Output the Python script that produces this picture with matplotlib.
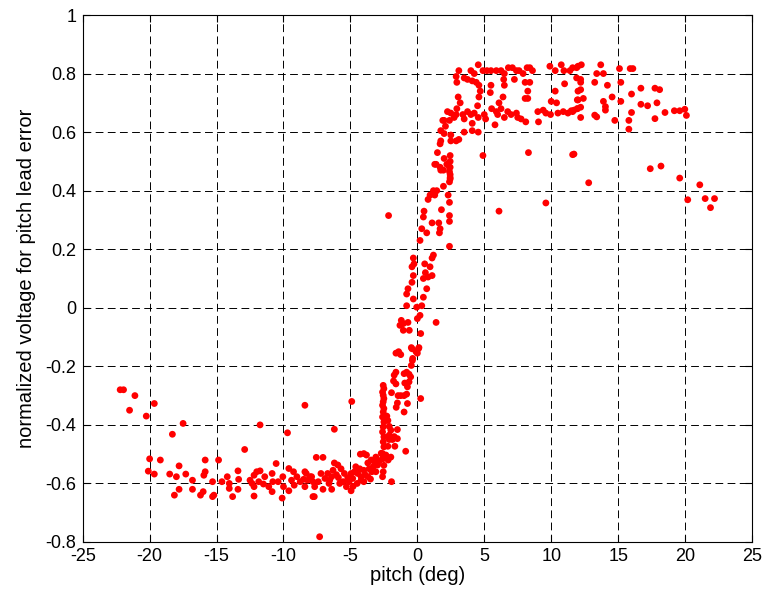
import matplotlib
matplotlib.use("Agg")
import matplotlib.pyplot as plt
import numpy as np

plt.rcParams['font.family'] = ['Liberation Sans', 'DejaVu Sans']
plt.rcParams['axes.unicode_minus'] = False

# ---- data: low plateau / left tail ----
pitch_low = [-22.2, -21.95, -21.1, -21.5, -20.25, -19.65, -17.5, -18.3, -20.0, -20.1,
             -19.65, -19.2, -18.5, -18.0, -17.8, -18.15, -17.8, -17.3, -16.8, -16.8,
             -16.2, -16.0, -15.95, -15.85, -15.85, -15.3, -15.3, -15.2, -14.85, -14.6,
             -14.2, -14.05, -14.05, -13.8, -13.4, -13.4, -13.35, -12.9, -12.5, -12.2,
             -12.2, -12.2, -12.0, -11.75, -11.75, -11.4, -12.35, -11.85, -11.5, -11.1,
             -10.85, -10.85, -10.8, -10.55, -10.4, -10.1, -10.0, -10.05, -9.7, -9.6,
             -9.6, -9.4, -9.25, -9.2, -8.4, -8.4, -8.4, -8.5, -9.0, -8.75,
             -8.0, -7.8, -7.8]
volt_low = [-0.28, -0.28, -0.30, -0.35, -0.37, -0.327, -0.395, -0.432, -0.516, -0.558,
            -0.568, -0.52, -0.568, -0.577, -0.54, -0.64, -0.62, -0.568, -0.589, -0.62,
            -0.64, -0.628, -0.572, -0.56, -0.52, -0.594, -0.645, -0.64, -0.52, -0.594,
            -0.577, -0.6, -0.617, -0.645, -0.62, -0.557, -0.586, -0.484, -0.589, -0.572,
            -0.611, -0.643, -0.56, -0.4, -0.557, -0.577, -0.6, -0.594, -0.602, -0.611,
            -0.628, -0.566, -0.594, -0.532, -0.594, -0.65, -0.611, -0.577, -0.427, -0.549,
            -0.625, -0.589, -0.56, -0.606, -0.333, -0.611, -0.56, -0.586, -0.577, -0.594,
            -0.577, -0.594, -0.645]

pitch_knee = [-8.3, -8.2, -7.9, -7.67, -7.55, -7.05, -7.4, -7.2, -7.05, -6.9,
              -6.7, -6.55, -6.4, -6.4, -6.3, -6.2, -6.05, -5.94, -5.8, -5.7,
              -5.55, -5.45, -5.3, -5.1, -4.95, -4.95, -4.9, -4.83, -4.7, -4.6,
              -4.45, -4.3, -4.26, -4.2, -4.2, -4.0, -4.0, -4.0, -3.8, -3.7,
              -3.7, -3.6, -3.45, -3.3, -3.2, -3.1, -3.1, -2.97, -2.85, -2.7,
              -2.6, -2.35, -2.18, -1.98, -1.93, -7.7, -7.3, -6.2, -5.2, -4.5,
              -3.9, -3.4, -5.9, -6.6, -4.8, -3.5]
volt_knee = [-0.566, -0.589, -0.577, -0.611, -0.511, -0.511, -0.594, -0.566, -0.62, -0.583,
             -0.566, -0.589, -0.577, -0.62, -0.555, -0.53, -0.57, -0.537, -0.6, -0.55,
             -0.594, -0.566, -0.611, -0.594, -0.566, -0.625, -0.32, -0.583, -0.56, -0.543,
             -0.566, -0.55, -0.5, -0.577, -0.589, -0.555, -0.594, -0.498, -0.503, -0.53,
             -0.577, -0.55, -0.52, -0.543, -0.526, -0.51, -0.56, -0.537, -0.523, -0.497,
             -0.515, -0.503, -0.52, -0.51, -0.594, -0.645, -0.782, -0.415, -0.58, -0.6,
             -0.57, -0.56, -0.58, -0.6, -0.61, -0.585]

# ---- data: vertical stack near -2.5 deg ----
pitch_stack = [-2.55, -2.5, -2.6, -2.55, -2.5, -2.55, -2.6, -2.5, -2.55, -2.6,
               -2.5, -2.55, -2.6, -2.5, -2.55, -2.5, -2.6, -2.55, -2.5, -2.55, -2.6]
volt_stack = [-0.265, -0.276, -0.288, -0.299, -0.31, -0.321, -0.333, -0.344, -0.356, -0.373,
              -0.39, -0.407, -0.424, -0.441, -0.458, -0.475, -0.498, -0.515, -0.538, -0.56, -0.577]

# ---- data: rising section ----
pitch_rise = [-2.28, -2.2, -2.1, -1.49, -1.73, -1.86, -1.49, -1.68, -0.87, -2.1,
              -1.98, -2.1, -2.2, -1.36, -1.24, -0.45, 0.12, 0.0, -0.37, -0.45,
              -1.6, -1.73, -0.99, -0.8, -0.62, -0.5, -1.78, -1.6, -0.94, -0.74,
              -0.62, -1.93, -1.24, -1.44, -0.99, -0.8, -0.74, -1.49, -1.58, -0.99,
              0.25, -1.4, -1.6, -0.4, -0.1, 0.08, -0.35, 0.25, -1.05, -0.6,
              -1.2, -1.05, -1.3, -0.7, 0.0, 1.4, 0.2, -0.8, -0.05, 0.33,
              -0.8, -0.3, 0.45, -0.7, 0.7, -0.4, 0.45, -0.3, 0.8, 1.1,
              0.95, -0.4, -0.25, -0.3, 1.1, 1.2, 0.2, 2.4, 0.7, 1.65,
              1.7, 0.33, 1.6, 1.1, 0.45, 0.5, 1.8, 2.4, 0.8, 1.3,
              0.95, 2.3, 1.2, 1.45, 1.95, 2.4, 2.45, 1.95, 1.7, 2.4,
              1.3, 2.2, -2.15, 2.4, 2.4, 2.45, 2.4, 2.45, 0.55, 0.6]
volt_rise = [-0.37, -0.385, -0.405, -0.416, -0.44, -0.45, -0.447, -0.473, -0.49, -0.45,
             -0.418, -0.435, -0.473, -0.155, -0.16, -0.136, -0.136, -0.155, -0.18, -0.197,
             -0.22, -0.23, -0.225, -0.22, -0.227, -0.236, -0.25, -0.26, -0.257, -0.27,
             -0.253, -0.29, -0.30, -0.30, -0.30, -0.295, -0.327, -0.325, -0.34, -0.356,
             -0.31, -0.15, -0.155, -0.14, -0.15, -0.14, -0.173, -0.088, -0.077, -0.077,
             -0.043, -0.054, -0.06, -0.05, -0.037, -0.05, -0.026, 0.007, 0.002, 0.007,
             0.047, 0.03, 0.036, 0.065, 0.065, 0.087, 0.10, 0.11, 0.105, 0.11,
             0.14, 0.14, 0.15, 0.17, 0.17, 0.18, 0.23, 0.21, 0.256, 0.256,
             0.27, 0.27, 0.29, 0.29, 0.31, 0.33, 0.335, 0.36, 0.37, 0.385,
             0.385, 0.385, 0.40, 0.40, 0.415, 0.43, 0.455, 0.47, 0.48, 0.48,
             0.49, 0.49, 0.315, 0.295, 0.315, 0.44, 0.465, 0.50, 0.15, 0.12]

# ---- data: upper plateau ----
pitch_high = [3.1, 4.0, 4.25, 4.55, 4.9, 5.2, 5.5, 5.9, 6.25, 6.5,
              6.8, 7.1, 7.4, 7.6, 7.9, 8.2, 8.4, 8.6, 9.9, 10.3,
              10.75, 10.95, 11.4, 11.9, 12.25,
              2.9, 2.95, 3.5, 3.75, 4.1, 4.4, 4.6, 4.7, 4.6, 5.5,
              5.45, 6.45, 6.5, 7.25, 8.05, 8.4, 8.25, 8.25, 8.05, 10.3,
              11.0, 12.0, 12.0,
              3.05, 3.2, 2.95, 2.9, 2.5, 2.25, 2.0, 1.9, 2.4, 2.75,
              3.4, 3.5, 3.75, 4.0, 4.25, 4.1, 4.5, 4.55, 5.0, 5.1,
              5.55, 5.9, 6.0, 6.1, 6.25, 6.4, 6.5, 5.8, 6.75, 7.0,
              7.4, 7.5, 7.75, 8.1, 9.0, 9.05, 9.4, 9.6, 9.95, 10.0,
              10.4, 10.5, 10.9, 11.25, 11.6, 11.95, 12.2,
              2.1, 1.75, 2.0, 2.5, 2.9, 3.1, 3.5, 4.1, 4.55, 1.75,
              2.5, 1.7, 1.5, 2.0, 2.45, 4.9, 8.3, 11.7, 1.4, 1.75,
              2.45, 2.45,
              11.6, 12.0, 13.7, 15.1, 15.9, 16.1, 13.4, 13.9, 11.9, 12.2,
              12.2, 13.25, 14.2, 15.2, 16.7, 17.75, 18.1, 12.2, 16.0, 14.55,
              12.4, 11.95, 13.9, 15.2, 17.9, 16.7, 17.2, 14.05, 14.05, 11.7,
              11.95, 11.5, 16.0, 18.5, 19.2, 19.6, 19.98, 20.1, 12.2, 13.25,
              13.4, 14.75, 15.8, 17.75, 15.8, 11.6, 12.8, 17.4, 18.2, 19.6,
              21.1, 20.2, 21.5, 22.2, 21.9, 9.6, 6.1]
volt_high = [0.81, 0.81, 0.80, 0.83, 0.81, 0.81, 0.81, 0.81, 0.81, 0.80,
             0.82, 0.82, 0.81, 0.81, 0.80, 0.82, 0.82, 0.81, 0.825, 0.81,
             0.83, 0.81, 0.81, 0.82, 0.83,
             0.79, 0.77, 0.785, 0.78, 0.775, 0.77, 0.76, 0.74, 0.72, 0.76,
             0.735, 0.78, 0.76, 0.78, 0.77, 0.77, 0.74, 0.715, 0.715, 0.74,
             0.765, 0.71, 0.74,
             0.72, 0.70, 0.68, 0.66, 0.665, 0.67, 0.64, 0.64, 0.64, 0.65,
             0.66, 0.645, 0.67, 0.66, 0.665, 0.63, 0.69, 0.65, 0.66, 0.645,
             0.68, 0.67, 0.66, 0.70, 0.68, 0.72, 0.65, 0.625, 0.67, 0.66,
             0.665, 0.65, 0.645, 0.635, 0.67, 0.635, 0.675, 0.665, 0.66, 0.705,
             0.70, 0.665, 0.67, 0.665, 0.67, 0.68, 0.685,
             0.62, 0.605, 0.595, 0.59, 0.57, 0.575, 0.60, 0.605, 0.60, 0.57,
             0.57, 0.56, 0.53, 0.51, 0.52, 0.52, 0.53, 0.525, 0.49, 0.47,
             0.48, 0.445,
             0.82, 0.825, 0.83, 0.817, 0.817, 0.817, 0.80, 0.80, 0.785, 0.78,
             0.77, 0.77, 0.76, 0.77, 0.75, 0.75, 0.745, 0.745, 0.73, 0.72,
             0.715, 0.71, 0.705, 0.705, 0.70, 0.695, 0.69, 0.687, 0.675, 0.675,
             0.68, 0.673, 0.667, 0.667, 0.673, 0.673, 0.678, 0.657, 0.65, 0.658,
             0.652, 0.64, 0.64, 0.646, 0.61, 0.523, 0.427, 0.475, 0.484, 0.443,
             0.42, 0.369, 0.373, 0.373, 0.342, 0.358, 0.33]

x_ticks = [-25, -20, -15, -10, -5, 0, 5, 10, 15, 20, 25]
y_ticks = [-0.8, -0.6, -0.4, -0.2, 0, 0.2, 0.4, 0.6, 0.8, 1]
y_tick_labels = ['-0.8', '-0.6', '-0.4', '-0.2', '0', '0.2', '0.4', '0.6', '0.8', '1']
x_tick_labels = ['-25', '-20', '-15', '-10', '-5', '0', '5', '10', '15', '20', '25']

pitch = np.concatenate([pitch_low, pitch_knee, pitch_stack, pitch_rise, pitch_high])
volt = np.concatenate([volt_low, volt_knee, volt_stack, volt_rise, volt_high])

fig = plt.figure(figsize=(7.65, 5.98), dpi=100)
ax = fig.add_axes([82.7 / 765, 56 / 598, (752 - 82.7) / 765, (542 - 15) / 598])

ax.scatter(pitch, volt, s=24, color='#ff0000', edgecolors='none', zorder=3)

ax.set_xlim(-25, 25)
ax.set_ylim(-0.8, 1)
ax.set_xticks(x_ticks)
ax.set_xticklabels(x_tick_labels)
ax.set_yticks(y_ticks)
ax.set_yticklabels(y_tick_labels)
ax.grid(True, color='black', linestyle=(0, (8, 4.5)), linewidth=0.7)
ax.set_axisbelow(True)
ax.tick_params(direction='in', top=True, right=True, length=5, width=0.8,
               labelsize=13, colors='black', pad=4.5)
for s in ax.spines.values():
    s.set_linewidth(0.8)
    s.set_color('black')

ax.set_xlabel('pitch (deg)', fontsize=14.5, labelpad=0.5)
ax.set_ylabel('normalized voltage for pitch lead error', fontsize=14.5, labelpad=7)

fig.savefig('out.png', dpi=100)
